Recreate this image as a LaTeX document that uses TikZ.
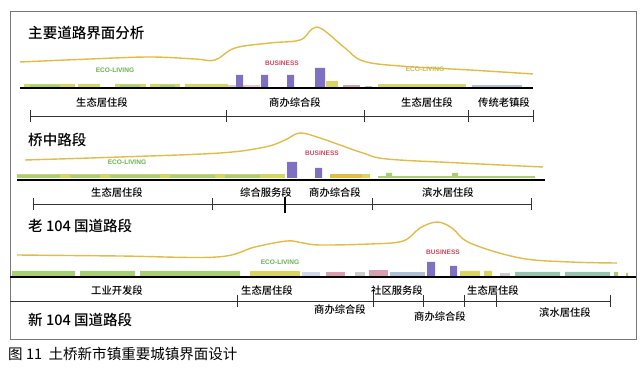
\documentclass[tikz,border=0pt]{standalone}
\usepackage{fontspec}
\setmainfont{Liberation Sans}
\newfontfamily\cjk{Noto Sans CJK SC}
\newfontfamily\cjkm{Noto Sans CJK SC Medium}
\usetikzlibrary{positioning}

\definecolor{curvecol}{RGB}{226,188,72}
\definecolor{barcol}{RGB}{128,112,196}
\definecolor{ecocol}{RGB}{104,178,76}
\definecolor{buscol}{RGB}{214,70,92}
\definecolor{stripy}{RGB}{214,214,96}
\definecolor{stripg}{RGB}{168,206,120}
\definecolor{stripp}{RGB}{214,160,176}
\definecolor{stripb}{RGB}{176,190,214}
\definecolor{stript}{RGB}{150,196,176}
\definecolor{framecol}{RGB}{120,120,120}

\begin{document}
\begin{tikzpicture}[x=0.03cm,y=-0.03cm,
	title/.style={anchor=west,inner sep=0pt,font=\cjkm\fontsize{12.4}{14}\selectfont},
	seg/.style={inner sep=0pt,font=\cjkm\fontsize{8.8}{10}\selectfont},
	eco/.style={inner sep=0pt,text=ecocol,font=\bfseries\fontsize{5.6}{6}\selectfont},
	bus/.style={inner sep=0pt,text=buscol,font=\bfseries\fontsize{5.6}{6}\selectfont},
	curve/.style={curvecol,line width=1.2pt},
	bar/.style={fill=barcol},
	road/.style={black,line width=1.6pt},
	axis/.style={black!80,line width=0.5pt}]
	\useasboundingbox (0,0) rectangle (640,375);
	%draw frame
	\draw [framecol,line width=0.6pt] (10,11) rectangle (636,339);
	
	%%% panel 1
	\node [title] (title1) at (28,33) {主要道路界面分析};
	\draw [curve] plot[smooth,tension=0.6] coordinates {(20,62) (90,59) (150,57) (195,59) (215,60) (235,48) (270,43) (300,40) (312,29) (322,29) (345,48) (363,61) (400,66) (470,70) (533,74)};
	%draw strips and bars
	\fill [stripy] (24,84) rectangle (75,88) (78,84) rectangle (100,88) (115,84) rectangle (146,88) (150,84) rectangle (180,88) (185,84) rectangle (228,88);
	\fill [stripg] (30,85) rectangle (60,88) (120,85) rectangle (140,88) (160,85) rectangle (175,88);
	\fill [stripp!60] (228,85) rectangle (260,88);
	\fill [bar] (236,75) rectangle (243,88) (261,75) rectangle (268,88) (287,75) rectangle (294,88) (315,68) rectangle (325,88);
	\fill [stripy] (326,81) rectangle (338,88);
	\fill [stripp] (343,85) rectangle (360,88);
	\fill [stripb] (365,86) rectangle (372,88);
	\fill [stripy] (378,84) rectangle (466,88);
	\fill [stripb] (472,85) rectangle (522,88);
	\draw [road] (20,88) -- (533,88);
	%draw labels
	\node [eco] (eco1a) at (115,70) {ECO-LIVING};
	\node [bus] (bus1) at (282,63) {BUSINESS};
	\node [eco,text=curvecol!80!ecocol] (eco1b) at (425,69) {ECO-LIVING};
	\node [seg] (s1a) at (102,103) {生态居住段};
	\node [seg] (s1b) at (295,103) {商办综合段};
	\node [seg] (s1c) at (427,103) {生态居住段};
	\node [seg] (s1d) at (504,103) {传统老镇段};
	\draw [axis] (30,116) -- (533,116);
	\draw [axis] (30,110) -- (30,122) (226,110) -- (226,122) (364,110) -- (364,122) (468,110) -- (468,122) (533,110) -- (533,122);
	
	%%% panel 2
	\node [title] (title2) at (28,140) {桥中路段};
	\draw [curve] plot[smooth,tension=0.6] coordinates {(25,160) (120,157) (220,153) (265,147) (285,140) (300,133) (320,138) (340,145) (363,153) (387,159) (460,163) (543,167)};
	%draw strips and bars
	\fill [stripy] (17,174) rectangle (285,178);
	\fill [stripg] (17,175) rectangle (60,178) (70,175) rectangle (100,178) (110,175) rectangle (160,178) (170,175) rectangle (215,178) (225,175) rectangle (260,178);
	\fill [bar] (287,162) rectangle (297,178) (315,168) rectangle (322,178);
	\fill [stripy!70!orange] (330,174) rectangle (362,178);
	\fill [stripy] (362,174) rectangle (370,178);
	\fill [stripg] (378,176) rectangle (535,178);
	\fill [stripg] (386,173) rectangle (392,176) (452,173) rectangle (458,176);
	\draw [road] (17,180) -- (545,180);
	%draw labels
	\node [eco] (eco2) at (127,162) {ECO-LIVING};
	\node [bus] (bus2) at (322,153) {BUSINESS};
	\node [seg] (s2a) at (117,193) {生态居住段};
	\node [seg] (s2b) at (266,193) {综合服务段};
	\node [seg] (s2c) at (335,193) {商办综合段};
	\node [seg] (s2d) at (448,193) {滨水居住段};
	\draw [axis] (33,204) -- (531,204);
	\draw [axis] (33,198) -- (33,210) (212,198) -- (212,210) (372,198) -- (372,210) (531,198) -- (531,210);
	\draw [black,line width=0.9pt] (285,197) -- (285,213);
	
	%%% panel 3
	\node [title] (title3) at (28,226) {老 104 国道路段};
	\draw [curve] plot[smooth,tension=0.6] coordinates {(17,255) (120,256) (217,257) (255,247) (287,241) (303,243) (320,245) (370,244) (403,241) (420,228) (437,222) (452,228) (470,243) (520,258) (570,262) (617,263)};
	%draw strips and bars
	\fill [stripg] (12,271) rectangle (75,276) (80,271) rectangle (135,276) (140,271) rectangle (240,276);
	\fill [stripy] (250,271) rectangle (300,276);
	\fill [stripb!60] (302,272) rectangle (320,276);
	\fill [stripp] (326,272) rectangle (345,276);
	\fill [black!20] (355,272) rectangle (365,276);
	\fill [stripp] (369,270) rectangle (388,276);
	\fill [stripb] (390,272) rectangle (425,276);
	\fill [bar] (427,262) rectangle (435,276) (450,266) rectangle (457,276);
	\fill [stripy] (460,271) rectangle (480,276) (484,271) rectangle (492,276);
	\fill [black!20] (500,273) rectangle (510,276);
	\fill [stript] (515,272) rectangle (560,276) (565,272) rectangle (610,276);
	\fill [stripg] (614,272) rectangle (618,276) (626,273) rectangle (628,276);
	\draw [road] (10,277) -- (636,277);
	%draw labels
	\node [eco] (eco3) at (280,262) {ECO-LIVING};
	\node [bus] (bus3) at (443,252) {BUSINESS};
	\node [seg] (s3a) at (117,291) {工业开发段};
	\node [seg] (s3b) at (267,291) {生态居住段};
	\node [seg] (s3c) at (397,291) {社区服务段};
	\node [seg] (s3d) at (493,291) {生态居住段};
	\draw [axis] (10,301) -- (610,301);
	\draw [axis] (237,295) -- (237,307) (373,295) -- (373,307) (423,295) -- (423,307) (464,295) -- (464,307) (496,295) -- (496,307) (610,295) -- (610,307);
	\node [seg] (s3e) at (340,310) {商办综合段};
	\node [seg] (s3f) at (440,317) {商办综合段};
	\node [seg] (s3g) at (565,313) {滨水居住段};
	\node [title] (title4) at (28,320) {新 104 国道路段};
	
	%draw caption
	\node [title,font=\cjk\fontsize{12.4}{14}\selectfont] (caption) at (8,354) {图 11\ \ 土桥新市镇重要城镇界面设计};
\end{tikzpicture}
\end{document}
